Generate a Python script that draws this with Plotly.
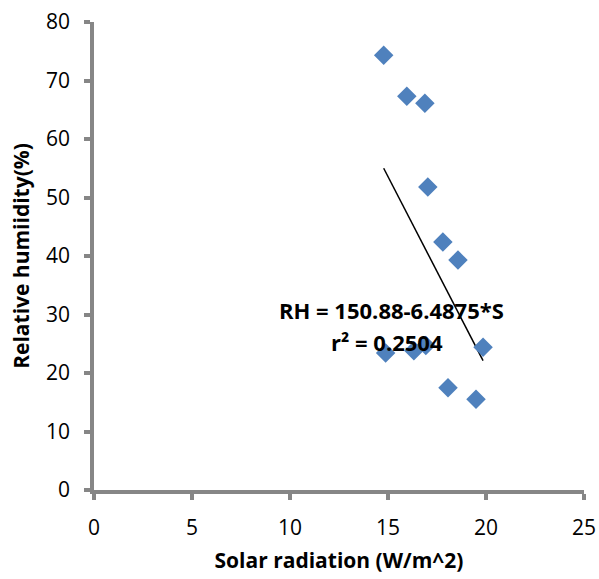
import plotly.graph_objects as go

solar = [14.78, 15.96, 16.88, 17.03, 17.80, 18.57, 19.85, 14.88, 16.32, 16.93, 18.06, 19.49]
rh = [74.3, 67.3, 66.1, 51.8, 42.4, 39.3, 24.4, 23.4, 23.8, 24.7, 17.5, 15.5]
intercept = 150.88
slope = -6.4875
r2 = 0.2504

x_ticks = [0, 5, 10, 15, 20, 25]
y_ticks = [0, 10, 20, 30, 40, 50, 60, 70, 80]

xmin, xmax = min(solar), max(solar)
trend_x = [xmin, xmax]
trend_y = [intercept + slope * v for v in trend_x]

fig = go.Figure()
fig.add_trace(go.Scatter(x=trend_x, y=trend_y, mode="lines",
                         line=dict(color="black", width=1.5), showlegend=False,
                         hoverinfo="skip"))
fig.add_trace(go.Scatter(x=solar, y=rh, mode="markers",
                         marker=dict(symbol="diamond", size=15, color="#4F81BD",
                                     line=dict(width=0)),
                         showlegend=False))

font_family = "Open Sans, Liberation Sans, sans-serif"
fig.add_annotation(x=15.2, y=30.8, xref="x", yref="y",
                   text=f"<b>RH = {intercept}-{-slope}*S</b>", showarrow=False,
                   font=dict(size=22, color="black", family=font_family))
fig.add_annotation(x=14.95, y=25.3, xref="x", yref="y",
                   text=f"<b>r² = {r2}</b>", showarrow=False,
                   font=dict(size=22, color="black", family=font_family))

axis_common = dict(showgrid=False, zeroline=False, showline=True,
                   linecolor="#868686", linewidth=3.5, ticks="outside",
                   tickcolor="#868686", tickwidth=3.5, ticklen=6,
                   ticklabelstandoff=10, automargin=False,
                   tickfont=dict(size=21, color="black", family=font_family))

fig.update_layout(
    width=599, height=579,
    margin=dict(l=94, r=15, t=22, b=89),
    plot_bgcolor="white", paper_bgcolor="white",
    xaxis=dict(range=[0, 25], tickvals=x_ticks,
               title=dict(text="<b>Solar radiation (W/m^2)</b>",
                          font=dict(size=21, color="black", family=font_family),
                          standoff=14),
               **axis_common),
    yaxis=dict(range=[0, 80], tickvals=y_ticks,
               title=dict(text="<b>Relative humiidity(%)</b>",
                          font=dict(size=21, color="black", family=font_family),
                          standoff=12),
               **axis_common),
)

fig.write_html("out.html")
